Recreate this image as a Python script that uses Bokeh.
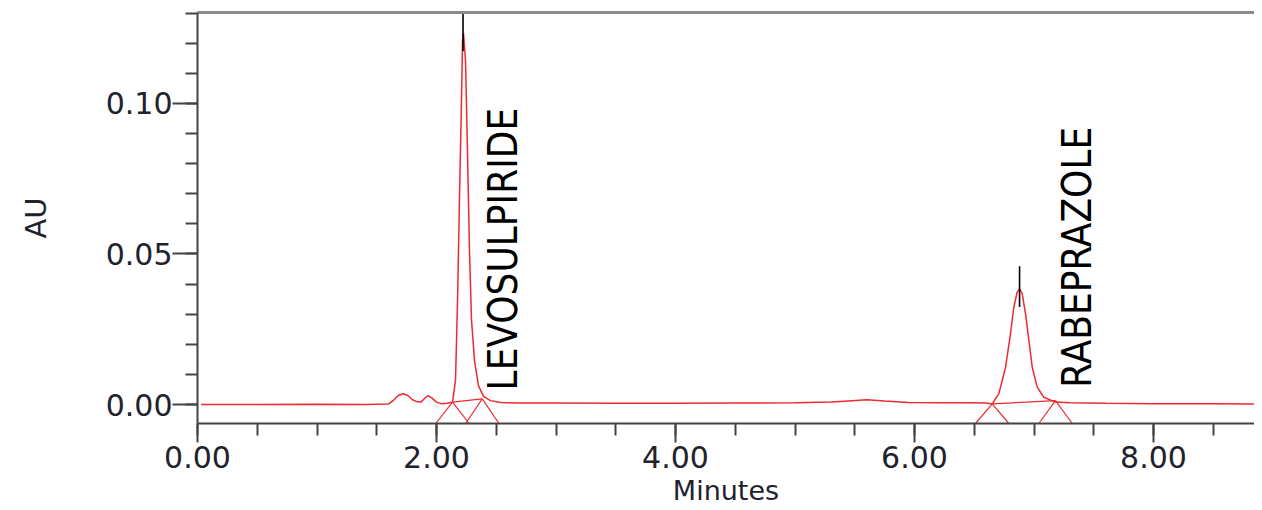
import math
from bokeh.plotting import figure
from bokeh.models import Range1d, LinearAxis, FixedTicker, NumeralTickFormatter, ColumnDataSource
from bokeh.core.properties import value
from bokeh.embed import file_html
from bokeh.resources import INLINE

# ---- data ----
trace_min = [0.03, 0.50, 1.00, 1.40, 1.60, 1.64, 1.68, 1.72, 1.76, 1.80, 1.84, 1.87, 1.90, 1.93,
             1.96, 2.00, 2.04, 2.09, 2.134, 2.159, 2.176, 2.192, 2.209, 2.218, 2.226, 2.243,
             2.259, 2.276, 2.293, 2.318, 2.351, 2.393, 2.452, 2.536, 2.70, 3.00, 3.50, 4.00,
             4.50, 5.00, 5.30, 5.45, 5.60, 5.75, 5.95, 6.20, 6.45, 6.60, 6.65, 6.706, 6.762,
             6.803, 6.831, 6.859, 6.879, 6.901, 6.929, 6.957, 6.985, 7.027, 7.082, 7.18, 7.30,
             7.60, 8.00, 8.50, 8.91]
trace_au = [0.0000, 0.0000, 0.0001, 0.0000, 0.0002, 0.0014, 0.0030, 0.0036, 0.0030, 0.0016,
            0.0009, 0.0008, 0.0020, 0.0030, 0.0022, 0.0008, 0.0003, 0.0004, 0.0008, 0.0080,
            0.0345, 0.0680, 0.1010, 0.1210, 0.1233, 0.1140, 0.0844, 0.0510, 0.0280, 0.0146,
            0.0063, 0.0027, 0.0013, 0.0007, 0.0005, 0.0005, 0.0004, 0.0004, 0.0005, 0.0006,
            0.0008, 0.0012, 0.0016, 0.0012, 0.0007, 0.0006, 0.0006, 0.0005, 0.0002, 0.0036,
            0.0124, 0.0235, 0.0323, 0.0373, 0.0384, 0.0368, 0.0301, 0.0213, 0.0124, 0.0058,
            0.0024, 0.0008, 0.0006, 0.0004, 0.0003, 0.0003, 0.0002]

peak_names = ["LEVOSULPIRIDE", "RABEPRAZOLE"]
apex_min = [2.222, 6.879]
apex_au = [0.1233, 0.0384]
start_min = [2.134, 6.650]
start_au = [0.0008, 0.0002]
end_min = [2.383, 7.180]
end_au = [0.0019, 0.0013]

x_ticks = [0, 2, 4, 6, 8]
y_ticks = [0.00, 0.05, 0.10]

# ---- layout constants ----
X0, X1 = 0.0, 8.845
Y0, Y1 = -0.0063, 0.1302
label_min = [2.56, 7.356]
label_au = [0.0047, 0.0056]
FOOT = 0.14

p = figure(width=1254, height=510, output_backend="svg", toolbar_location=None,
           x_range=Range1d(X0, X1), y_range=Range1d(Y0, Y1),
           min_border_left=197, min_border_right=0, min_border_top=12, min_border_bottom=87)
p.grid.visible = False
p.outline_line_color = None
p.background_fill_color = "white"
p.border_fill_color = "white"

AX = "#444444"
LBL = "#22222c"

p.xaxis.ticker = FixedTicker(ticks=x_ticks, minor_ticks=[0.5 * i for i in range(0, 19)])
p.xaxis.formatter = NumeralTickFormatter(format="0.00")
p.xaxis.axis_label = "Minutes"
p.yaxis.ticker = FixedTicker(ticks=y_ticks, minor_ticks=[0.01 * i for i in range(0, 14)])
p.yaxis.formatter = NumeralTickFormatter(format="0.00")
p.yaxis.axis_label = "AU"

for ax in (p.xaxis[0], p.yaxis[0]):
    ax.axis_line_color = AX
    ax.axis_line_width = 2
    ax.major_tick_line_color = AX
    ax.major_tick_line_width = 2
    ax.minor_tick_line_color = AX
    ax.minor_tick_line_width = 2
    ax.major_tick_in = 0
    ax.minor_tick_in = 0
    ax.minor_tick_out = 12
    ax.major_label_text_font = "DejaVu Sans"
    ax.major_label_text_font_size = "30px"
    ax.major_label_text_color = LBL
    ax.axis_label_text_font = "DejaVu Sans"
    ax.axis_label_text_font_style = "normal"
    ax.axis_label_text_font_size = "27px"
    ax.axis_label_text_color = LBL

p.xaxis.major_tick_out = 19
p.xaxis.major_label_standoff = 3
p.xaxis.axis_label_standoff = 4
p.yaxis.major_tick_out = 25
p.yaxis.major_label_standoff = 0
p.yaxis.axis_label_standoff = 50
p.yaxis.axis_label_text_font_size = "29px"

top = LinearAxis(ticker=FixedTicker(ticks=[]), major_label_text_font_size="0px",
                 axis_line_color="#8c8c8c", axis_line_width=3,
                 major_tick_line_color=None, minor_tick_line_color=None,
                 major_label_standoff=0)
p.add_layout(top, "above")

RED = "#ec2a30"

# peak boundary markers (inverted V's) and baseline drop lines
bx0, by0, bx1, by1 = [], [], [], []
for s_t, s_a, e_t, e_a in zip(start_min, start_au, end_min, end_au):
    for t, a in ((s_t, s_a), (e_t, e_a)):
        bx0 += [t, t]
        by0 += [a, a]
        bx1 += [t - FOOT, t + FOOT]
        by1 += [Y0, Y0]
    bx0.append(s_t); by0.append(s_a); bx1.append(e_t); by1.append(e_a)
p.segment(x0=bx0, y0=by0, x1=bx1, y1=by1, line_color=RED, line_width=1.2)

# trace
p.line(trace_min, trace_au, line_color=RED, line_width=1.5)

# apex markers
p.segment(x0=apex_min, y0=[a - 0.006 for a in apex_au], x1=apex_min,
          y1=[a + 0.0075 for a in apex_au], line_color="black", line_width=1.6)

# peak names
src = ColumnDataSource(dict(x=label_min, y=label_au, text=peak_names))
p.text(x="x", y="y", text="text", source=src, angle=math.pi / 2,
       text_font=value("DejaVu Sans Condensed"), text_font_size="40px",
       text_color="black", text_align="left", text_baseline="middle")

open("out.html", "w").write(file_html(p, INLINE))
